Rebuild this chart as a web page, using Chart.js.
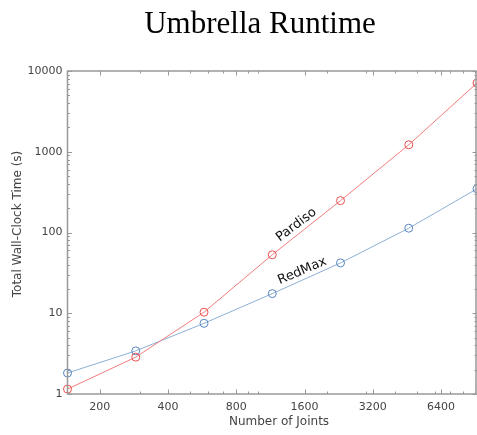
<!DOCTYPE html>
<html>
<head>
<meta charset="utf-8">
<script src="https://cdn.jsdelivr.net/npm/chart.js@4/dist/chart.umd.min.js"></script>
<style>
  html, body { margin: 0; padding: 0; background: #fff; }
  #wrap { width: 477px; height: 435px; }
</style>
</head>
<body>
<div id="wrap"><canvas id="c" width="477" height="435"></canvas></div>
<script>
// ---- data ----
const chartTitle = 'Umbrella Runtime';
const xAxisTitle = 'Number of Joints';
const yAxisTitle = 'Total Wall-Clock Time (s)';
const joints = [144, 288, 576, 1152, 2304, 4608, 9216];
const pardiso = [1.15, 2.86, 10.3, 53, 248, 1220, 7100];
const redmax = [1.82, 3.42, 7.5, 17.5, 42, 113, 348];
const xTickValues = [200, 400, 800, 1600, 3200, 6400];
const yTickValues = [1, 10, 100, 1000, 10000];
const xMinorValues = [200, 300, 400, 500, 600, 700, 800, 900, 1000, 2000, 3000, 4000, 5000, 6000, 7000, 8000, 9000];
const yMinorValues = [2,3,4,5,6,7,8,9,20,30,40,50,60,70,80,90,200,300,400,500,600,700,800,900,2000,3000,4000,5000,6000,7000,8000,9000];
const seriesNames = ['Pardiso', 'RedMax'];

// ---- styling / annotation placement ----
const lineLabels = [
  { text: 'Pardiso', x: 1472, y: 124, angle: -37 },
  { text: 'RedMax', x: 1563, y: 33.4, angle: -23 }
];
const redLine = 'rgb(242,125,125)', redMark = 'rgb(232,80,80)';
const blueLine = 'rgb(140,176,212)', blueMark = 'rgb(88,134,190)';
const axisColor = '#999';
const textColor = '#444';
const sans = '"DejaVu Sans", Verdana, sans-serif';

const framePlugin = {
  id: 'frame',
  afterDraw(chart) {
    const { ctx, chartArea: a, scales } = chart;
    const xs = scales.x, ys = scales.y;
    ctx.save();
    ctx.strokeStyle = axisColor;
    ctx.lineWidth = 1;
    const drawX = (v, len) => {
      const px = Math.round(xs.getPixelForValue(v)) + 0.5;
      ctx.beginPath();
      ctx.moveTo(px, a.bottom); ctx.lineTo(px, a.bottom - len);
      ctx.moveTo(px, a.top); ctx.lineTo(px, a.top + len);
      ctx.stroke();
    };
    const drawY = (v, len) => {
      const py = Math.round(ys.getPixelForValue(v)) + 0.5;
      ctx.beginPath();
      ctx.moveTo(a.left, py); ctx.lineTo(a.left + len, py);
      ctx.moveTo(a.right, py); ctx.lineTo(a.right - len, py);
      ctx.stroke();
    };
    xMinorValues.forEach(v => drawX(v, 2.5));
    xTickValues.forEach(v => drawX(v, 4.5));
    yMinorValues.forEach(v => drawY(v, 2.5));
    yTickValues.forEach(v => drawY(v, 4.5));
    ctx.lineWidth = 1.5;
    ctx.strokeRect(a.left, a.top, a.right - a.left - 1, a.bottom - a.top);
    ctx.restore();

    ctx.save();
    ctx.fillStyle = '#111';
    ctx.font = '13px ' + sans;
    ctx.textAlign = 'center';
    ctx.textBaseline = 'middle';
    lineLabels.forEach(l => {
      ctx.save();
      ctx.translate(xs.getPixelForValue(l.x), ys.getPixelForValue(l.y));
      ctx.rotate(l.angle * Math.PI / 180);
      ctx.fillText(l.text, 0, 0);
      ctx.restore();
    });
    // axis titles
    ctx.fillStyle = textColor;
    ctx.font = '12px ' + sans;
    ctx.fillText(xAxisTitle, 279, 422);
    ctx.save();
    ctx.translate(18, 224);
    ctx.rotate(-Math.PI / 2);
    ctx.fillText(yAxisTitle, 0, 0);
    ctx.restore();
    // chart title
    ctx.fillStyle = '#000';
    ctx.font = '31px "Liberation Serif", "Times New Roman", serif';
    ctx.fillText(chartTitle, 260, 25);
    ctx.restore();
  }
};

new Chart(document.getElementById('c'), {
  type: 'line',
  data: {
    datasets: [
      {
        label: seriesNames[0],
        data: joints.map((x, i) => ({ x, y: pardiso[i] })),
        borderColor: redLine,
        borderWidth: 1,
        pointBorderColor: redMark,
        pointBackgroundColor: 'rgba(0,0,0,0)',
        pointRadius: 4,
        pointBorderWidth: 1,
        tension: 0,
        clip: false
      },
      {
        label: seriesNames[1],
        data: joints.map((x, i) => ({ x, y: redmax[i] })),
        borderColor: blueLine,
        borderWidth: 1,
        pointBorderColor: blueMark,
        pointBackgroundColor: 'rgba(0,0,0,0)',
        pointRadius: 4,
        pointBorderWidth: 1,
        tension: 0,
        clip: false
      }
    ]
  },
  options: {
    responsive: false,
    animation: false,
    devicePixelRatio: 1,
    layout: { autoPadding: false, padding: { top: 71, right: 0, bottom: 0, left: 0 } },
    plugins: {
      legend: { display: false },
      title: { display: false },
      tooltip: { enabled: false }
    },
    scales: {
      x: {
        type: 'logarithmic',
        min: joints[0],
        max: joints[joints.length - 1],
        grid: { display: false, drawTicks: false },
        border: { display: false },
        afterBuildTicks(s) { s.ticks = xTickValues.map(v => ({ value: v })); },
        afterFit(s) { s.height = 41; s.paddingLeft = 0; s.paddingRight = 0; },
        ticks: {
          autoSkip: false,
          maxRotation: 0,
          padding: 7,
          color: textColor,
          font: { family: sans, size: 11 },
          callback: v => String(v)
        },
        title: { display: false }
      },
      y: {
        type: 'logarithmic',
        min: 1,
        max: 10000,
        grid: { display: false, drawTicks: false },
        border: { display: false },
        afterBuildTicks(s) { s.ticks = yTickValues.map(v => ({ value: v })); },
        afterFit(s) { s.width = 67.5; s.paddingTop = 0; s.paddingBottom = 0; },
        ticks: {
          autoSkip: false,
          padding: 5,
          color: textColor,
          font: { family: sans, size: 11 },
          callback: v => String(v)
        },
        title: { display: false }
      }
    }
  },
  plugins: [framePlugin]
});
</script>
</body>
</html>
